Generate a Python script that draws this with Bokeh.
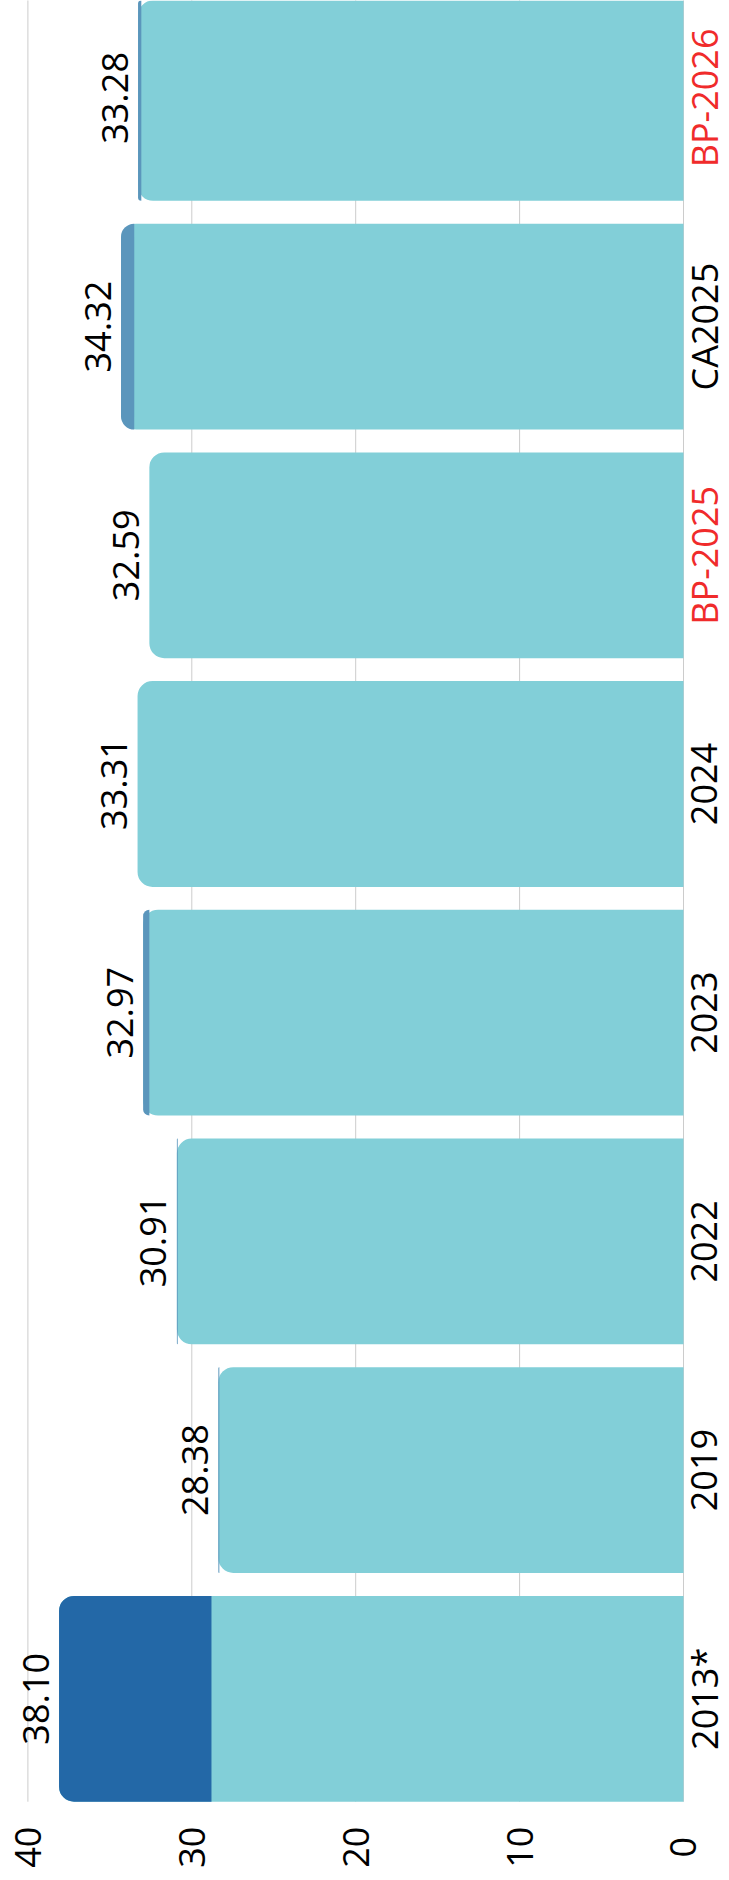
import math
from bokeh.plotting import figure
from bokeh.models import ColumnDataSource, Range1d
from bokeh.core.properties import value
from bokeh.embed import file_html
from bokeh.resources import INLINE

# ---- data ----
categories = ["2013*", "2019", "2022", "2023", "2024", "BP-2025", "CA2025", "BP-2026"]
totals = [38.10, 28.38, 30.91, 32.97, 33.31, 32.59, 34.32, 33.28]
top_part = [9.30, 0.06, 0.05, 0.38, 0.00, 0.00, 0.81, 0.20]
highlighted = ["BP-2025", "BP-2026"]
ticks = [0, 10, 20, 30, 40]

# ---- styles ----
LIGHT = "#82CFD8"
DARK = "#2368A7"
STEEL = "#5B96BC"
GRID = "#CCCCCC"
RED = "#F02B2B"
FONT = "Open Sans"
FS = "36px"
CAT_FS = "36px"

# ---- geometry (screen pixels -> data units) ----
W, H = 729, 1880
X_START, X_END = 41.672, -2.807           # value axis reversed: 0 on the right
PX = W / (X_START - X_END)                # px per value unit
PY = 228.7                                # px per category slot
Y_END = 7.4259                            # top of figure (category units)
Y_START = Y_END - H / PY
BAR_BOTTOM = -0.45                        # bottom edge of lowest bar / grid
VALUE_GAP = 23.4                          # value label centre left of bar end (px)
CAT_POS = 21.0                            # category label centre right of zero (px)
TICK_POS = 45.5                           # tick label centre below plot bottom (px)

idx = list(range(len(categories)))
base = [t - d for t, d in zip(totals, top_part)]
top_colors = [DARK if c == "2013*" else STEEL for c in categories]
cat_colors = [RED if c in highlighted else "black" for c in categories]

src = ColumnDataSource(dict(
    y=idx, total=totals, base=base, cat=categories,
    label=[f"{t:.2f}" for t in totals],
    lx=[t + VALUE_GAP / PX for t in totals],
    cx=[-CAT_POS / PX for _ in categories],
    tcol=top_colors, ccol=cat_colors,
))
tick_src = ColumnDataSource(dict(
    x=ticks, txt=[str(t) for t in ticks],
    y0=[BAR_BOTTOM for _ in ticks], y1=[Y_END + 1 for _ in ticks],
    ty=[BAR_BOTTOM - TICK_POS / PY for _ in ticks],
))

p = figure(width=W, height=H,
           x_range=Range1d(X_START, X_END), y_range=Range1d(Y_START, Y_END),
           output_backend="svg", toolbar_location=None,
           x_axis_location=None, y_axis_location=None,
           min_border=0)
p.outline_line_color = None
p.background_fill_color = "white"
p.xgrid.visible = False
p.ygrid.visible = False

# grid lines at the value ticks
p.segment(x0="x", y0="y0", x1="x", y1="y1", source=tick_src,
          line_color=GRID, line_width=1)

R = 15
p.hbar(y="y", left=0, right="total", height=0.9, source=src,
       fill_color=LIGHT, line_color=None, border_radius=(R, 0, 0, R))
p.hbar(y="y", left="base", right="total", height=0.9, source=src,
       fill_color="tcol", line_color=None, border_radius=(R, 0, 0, R))

# value labels
p.text(x="lx", y="y", text="label", source=src, angle=math.pi / 2,
       text_align="center", text_baseline="middle",
       text_font=value(FONT), text_font_size=FS, text_color="black")

# category labels
p.text(x="cx", y="y", text="cat", source=src, angle=math.pi / 2,
       text_align="center", text_baseline="middle",
       text_font=value(FONT), text_font_size=CAT_FS, text_color="ccol")

# value-axis tick labels
p.text(x="x", y="ty", text="txt", source=tick_src, angle=math.pi / 2,
       text_align="center", text_baseline="middle",
       text_font=value(FONT), text_font_size=FS, text_color="black")

open("out.html", "w").write(file_html(p, INLINE))
